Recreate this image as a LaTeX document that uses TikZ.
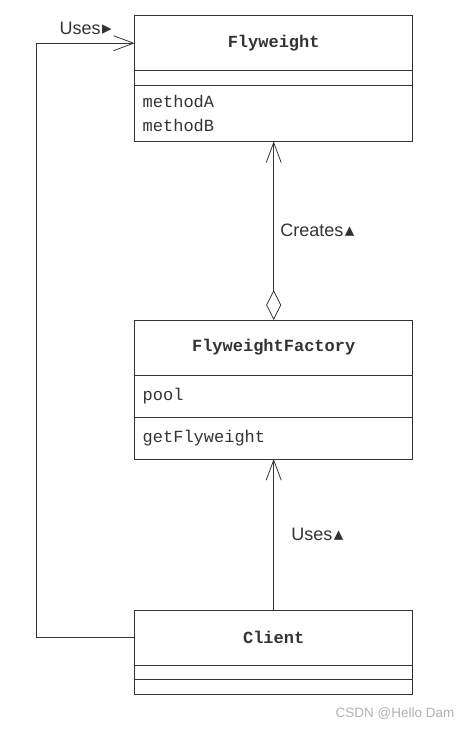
\documentclass[tikz,border=0pt]{standalone}
\usepackage{fontspec}
\setmainfont{Liberation Sans}
\setmonofont{Liberation Mono}
\newfontfamily\symfont{DejaVu Sans}
\usetikzlibrary{arrows.meta,positioning}
\definecolor{ink}{HTML}{333333}
\tikzset{
    part/.style={draw=ink, line width=0.8pt, minimum width=278pt, inner sep=0pt, outer sep=0pt,
                 text=ink, font=\fontsize{17}{24}\selectfont\ttfamily},
    namepart/.style={part, minimum height=55pt, font=\fontsize{17}{24}\selectfont\ttfamily\bfseries},
    listpart/.style={part, text width=262pt, align=left, inner xsep=8pt},
    label/.style={text=ink, font=\fontsize{18}{20}\selectfont},
    link/.style={draw=ink, line width=0.8pt},
    opentip/.tip={Straight Barb[length=20pt, width=15pt, line width=0.8pt]},
    holdtip/.tip={Diamond[open, length=30pt, width=15pt, line width=0.8pt]}
}
\newcommand{\rtri}{{\symfont\fontsize{19}{19}\selectfont ▸}}
\newcommand{\utri}{{\symfont\fontsize{19}{19}\selectfont ▴}}

\begin{document}
\begin{tikzpicture}
  [
    x = 1pt,
    y = -1pt,
  ]
  \useasboundingbox (0,0) rectangle (473,729);

  % Flyweight
  \node [namepart, anchor=north west] (fw) at (134.7,15.7) {Flyweight};
  \node [part, minimum height=14.3pt, below=0pt of fw] (fwattr) {};
  \node [listpart, minimum height=56.4pt, below=0pt of fwattr] (fwops) {methodA\\methodB};

  % FlyweightFactory
  \node [namepart, anchor=north west] (fac) at (134.7,320) {FlyweightFactory};
  \node [listpart, minimum height=42.3pt, below=0pt of fac] (facattr) {pool};
  \node [listpart, minimum height=41.7pt, below=0pt of facattr] (facops) {getFlyweight};

  % Client
  \node [namepart, anchor=north west] (cl) at (134.7,610) {Client};
  \node [part, minimum height=14.3pt, below=0pt of cl] (clattr) {};
  \node [part, minimum height=14.7pt, below=0pt of clattr] (clops) {};

  \coordinate (leftx) at (36.7,0);
  \coordinate (bend1) at (cl.west -| leftx);
  \coordinate (bend2) at (fw.west -| leftx);

  % connectors
  \draw [link, holdtip-opentip]
    (fac.north) -- node [label, midway, right=3pt] {Creates\kern1.5pt\utri} (fwops.south);
  \draw [link, -opentip]
    (cl.north) -- node [label, midway, right=14pt] {Uses\kern1.5pt\utri} (facops.south);
  \draw [link, -opentip]
    (cl.west) -- (bend1) -- (bend2)
    -- node [label, midway, above=5pt] {Uses\kern1.5pt\rtri} (fw.west);

  \node [text=gray!60, font=\fontsize{13.5}{14}\selectfont, anchor=east] (mark) at (458,714) {CSDN @Hello Dam};
\end{tikzpicture}
\end{document}
